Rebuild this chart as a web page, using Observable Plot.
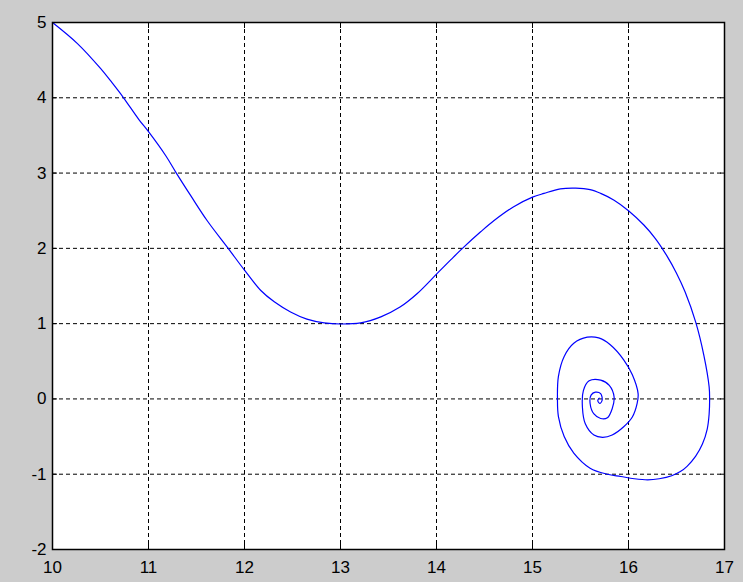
<!DOCTYPE html>
<html>
<head>
<meta charset="utf-8">
<script src="https://cdn.jsdelivr.net/npm/d3@7"></script>
<script src="https://cdn.jsdelivr.net/npm/@observablehq/plot@0.6"></script>
<style>
  html, body { margin: 0; padding: 0; background: #cccccc; }
</style>
</head>
<body>
<div id="chart"></div>
<script>
// Axis ticks
const xTicks = [10, 11, 12, 13, 14, 15, 16, 17];
const yTicks = [-2, -1, 0, 1, 2, 3, 4, 5];

// Trajectory: position (x) and velocity (y), spiralling into the equilibrium
const xs = [
  10.00, 10.26, 10.50, 10.62, 10.74, 10.90, 11.00, 11.18, 11.29, 11.44,
  11.61, 11.83, 12.00, 12.17, 12.31, 12.48, 12.65, 12.83, 13.00, 13.21,
  13.42, 13.62, 13.80, 14.01, 14.15, 14.27, 14.46, 14.60, 14.80, 15.00,
  15.12, 15.29, 15.45, 15.60, 15.71, 15.85, 16.00, 16.16, 16.28, 16.40,
  16.50, 16.59, 16.70, 16.785, 16.84, 16.845, 16.84, 16.82, 16.77, 16.70,
  16.61, 16.54, 16.45, 16.32, 16.20, 16.06, 15.92, 15.78, 15.60, 15.43,
  15.33, 15.27, 15.26, 15.27, 15.33, 15.43, 15.57, 15.69, 15.81, 15.95,
  16.04, 16.10, 16.09, 16.04, 15.95, 15.83, 15.73, 15.64, 15.55, 15.52,
  15.53, 15.59, 15.71, 15.80, 15.85, 15.83, 15.78, 15.71, 15.64, 15.60,
  15.61, 15.655, 15.71, 15.725, 15.70, 15.68, 15.695
];
const ys = [
  5.00, 4.72, 4.39, 4.20, 4.00, 3.71, 3.55, 3.23, 3.00, 2.70,
  2.37, 2.00, 1.71, 1.44, 1.29, 1.155, 1.06, 1.01, 0.995, 1.01,
  1.09, 1.22, 1.40, 1.67, 1.85, 2.00, 2.22, 2.37, 2.55, 2.68,
  2.73, 2.79, 2.80, 2.78, 2.73, 2.64, 2.50, 2.31, 2.13, 1.90,
  1.67, 1.42, 1.02, 0.58, 0.16, 0.00, -0.20, -0.40, -0.60, -0.76,
  -0.895, -0.965, -1.02, -1.06, -1.075, -1.06, -1.03, -1.00, -0.92, -0.72,
  -0.50, -0.235, 0.00, 0.30, 0.565, 0.74, 0.82, 0.81, 0.72, 0.52,
  0.32, 0.07, -0.06, -0.24, -0.37, -0.48, -0.51, -0.48, -0.33, -0.11,
  0.11, 0.24, 0.25, 0.18, 0.025, -0.13, -0.25, -0.26, -0.20, -0.06,
  0.05, 0.09, 0.07, -0.02, -0.06, -0.02, 0.01
];

const path = xs.map((x, i) => ({x, y: ys[i]}));
const plain = d => String(d);
const blank = () => "";
const gridStyle = {stroke: "black", strokeOpacity: 1, strokeWidth: 1, strokeDasharray: "4,3"};

const chart = Plot.plot({
  width: 743,
  height: 582,
  marginLeft: 52,
  marginRight: 19,
  marginTop: 22,
  marginBottom: 33,
  style: {
    background: "#cccccc",
    fontFamily: "'Liberation Sans', Arial, sans-serif",
    fontSize: "17px",
    color: "black"
  },
  x: {domain: [xTicks[0], xTicks[xTicks.length - 1]], label: null},
  y: {domain: [yTicks[0], yTicks[yTicks.length - 1]], label: null},
  marks: [
    Plot.frame({fill: "white", stroke: null}),
    Plot.gridX(xTicks, gridStyle),
    Plot.gridY(yTicks, gridStyle),
    Plot.line(path, {x: "x", y: "y", stroke: "#0000ff", strokeWidth: 1.2, curve: "catmull-rom"}),
    Plot.axisX(xTicks, {anchor: "bottom", tickSize: -5, tickPadding: 16, tickFormat: plain, label: null, stroke: "black"}),
    Plot.axisX(xTicks, {anchor: "top", tickSize: -5, tickFormat: blank, label: null, stroke: "black"}),
    Plot.axisY(yTicks, {anchor: "left", tickSize: -5, tickPadding: 11, tickFormat: plain, label: null, stroke: "black"}),
    Plot.axisY(yTicks, {anchor: "right", tickSize: -5, tickFormat: blank, label: null, stroke: "black"}),
    Plot.frame({stroke: "black", strokeWidth: 1.5})
  ]
});

document.getElementById("chart").append(chart);
</script>
</body>
</html>
